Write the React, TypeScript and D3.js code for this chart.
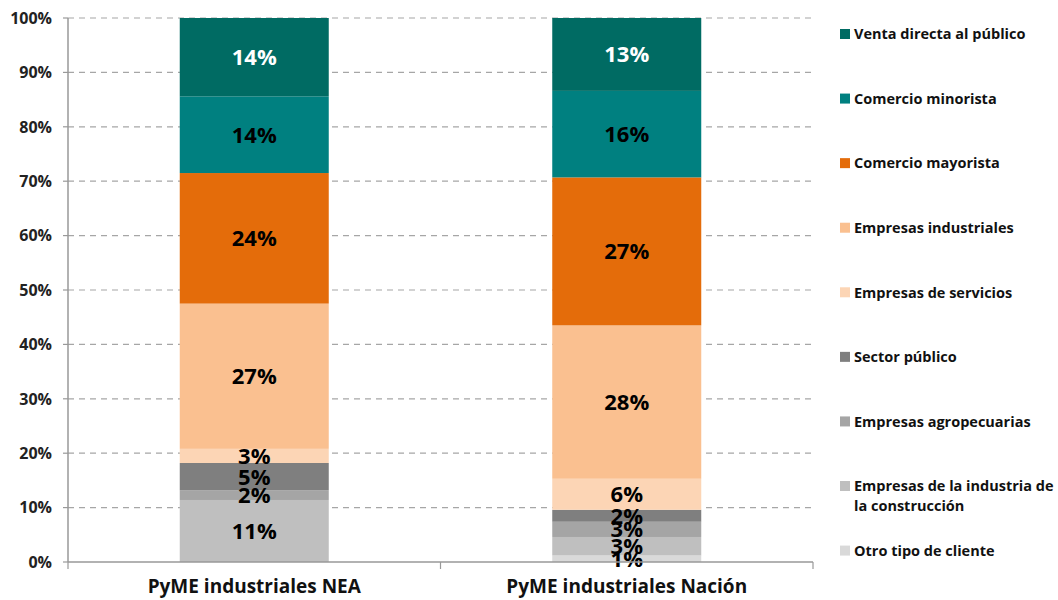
import { useMemo } from "react";
import * as d3 from "d3";

const WIDTH = 1058;
const HEIGHT = 600;
const MARGIN = { top: 18, right: 245, bottom: 38, left: 68 };

const categories = ["PyME industriales NEA", "PyME industriales Nación"];

// stack order, bottom to top
const seriesNames = [
    "Otro tipo de cliente",
    "Empresas de la industria de la construcción",
    "Empresas agropecuarias",
    "Sector público",
    "Empresas de servicios",
    "Empresas industriales",
    "Comercio mayorista",
    "Comercio minorista",
    "Venta directa al público",
];
const seriesColors = ["#d9d9d9", "#bfbfbf", "#a5a5a5", "#7f7f7f", "#fcd5b5", "#fac090", "#e46c0a", "#008080", "#006b63"];
const labelColors = ["#000", "#000", "#000", "#000", "#000", "#000", "#000", "#000", "#fff"];

const neaValues = [0, 11.4, 1.8, 5.0, 2.6, 26.7, 24.0, 14.1, 14.4];
const nacionValues = [1.2, 3.4, 2.8, 2.2, 5.7, 28.2, 27.2, 15.9, 13.4];

const yTicks = [0, 10, 20, 30, 40, 50, 60, 70, 80, 90, 100];

// legend rows, top to bottom (reverse of stack)
const legendLines: string[][] = [
    ["Venta directa al público"],
    ["Comercio minorista"],
    ["Comercio mayorista"],
    ["Empresas industriales"],
    ["Empresas de servicios"],
    ["Sector público"],
    ["Empresas agropecuarias"],
    ["Empresas de la industria de", "la construcción"],
    ["Otro tipo de cliente"],
];

const FONT = "'Open Sans', Lato, sans-serif";

const App = () => {
    const boundsWidth = WIDTH - MARGIN.left - MARGIN.right;
    const boundsHeight = HEIGHT - MARGIN.top - MARGIN.bottom;

    const xScale = useMemo(
        () => d3.scaleBand().domain(categories).range([0, boundsWidth]).paddingInner(0.6).paddingOuter(0.3),
        [boundsWidth]
    );
    const yScale = useMemo(() => d3.scaleLinear().domain([0, 100]).range([boundsHeight, 0]), [boundsHeight]);

    const table = categories.map((c, i) => {
        const vals = i === 0 ? neaValues : nacionValues;
        const row: Record<string, number | string> = { cat: c };
        seriesNames.forEach((s, j) => (row[s] = vals[j]));
        return row;
    });
    const stacked = d3.stack<Record<string, number | string>>().keys(seriesNames)(table as any);

    const gridStep = yScale(0) - yScale(10);

    return (
        <div style={{ position: "absolute", left: 0, top: 0 }}>
            <svg width={WIDTH} height={HEIGHT} style={{ display: "block", background: "white" }}>
                <g transform={`translate(${MARGIN.left},${MARGIN.top})`}>
                    {/* gridlines */}
                    {yTicks.filter((t) => t > 0).map((t) => (
                        <line
                            key={t}
                            x1={0}
                            x2={boundsWidth}
                            y1={yScale(t)}
                            y2={yScale(t)}
                            stroke="#a6a6a6"
                            strokeWidth={1.2}
                            strokeDasharray="6,5"
                        />
                    ))}
                    {/* bars */}
                    {stacked.map((layer, j) =>
                        layer.map((d, i) => {
                            const h = yScale(d[0]) - yScale(d[1]);
                            if (h <= 0) return null;
                            return (
                                <rect
                                    key={`${j}-${i}`}
                                    x={xScale(categories[i])}
                                    y={yScale(d[1])}
                                    width={xScale.bandwidth()}
                                    height={h}
                                    fill={seriesColors[j]}
                                />
                            );
                        })
                    )}
                    {/* data labels */}
                    {stacked.map((layer, j) =>
                        layer.map((d, i) => {
                            const v = d[1] - d[0];
                            if (v <= 0) return null;
                            return (
                                <text
                                    key={`l${j}-${i}`}
                                    x={(xScale(categories[i]) ?? 0) + xScale.bandwidth() / 2}
                                    y={yScale((d[0] + d[1]) / 2)}
                                    dy="0.36em"
                                    textAnchor="middle"
                                    fontFamily={FONT}
                                    fontWeight={700}
                                    fontSize={22}
                                    fill={labelColors[j]}
                                >
                                    {Math.round(v)}%
                                </text>
                            );
                        })
                    )}
                    {/* y axis */}
                    <line x1={0} x2={0} y1={0} y2={boundsHeight} stroke="#999" strokeWidth={1.5} />
                    {yTicks.map((t) => (
                        <g key={`t${t}`} transform={`translate(0,${yScale(t)})`}>
                            <line x1={-5} x2={0} stroke="#999" strokeWidth={1.2} />
                            <text
                                x={-16}
                                dy="0.36em"
                                textAnchor="end"
                                fontFamily={FONT}
                                fontWeight={700}
                                fontSize={16}
                                fill="#222"
                            >
                                {t}%
                            </text>
                        </g>
                    ))}
                    {/* x axis */}
                    <line x1={0} x2={boundsWidth} y1={boundsHeight} y2={boundsHeight} stroke="#999" strokeWidth={1.5} />
                    {[0, boundsWidth / 2, boundsWidth].map((x) => (
                        <line key={`xt${x}`} x1={x} x2={x} y1={boundsHeight} y2={boundsHeight + 7} stroke="#999" strokeWidth={1.2} />
                    ))}
                    {categories.map((c) => (
                        <text
                            key={c}
                            x={(xScale(c) ?? 0) + xScale.bandwidth() / 2}
                            y={boundsHeight + 31}
                            textAnchor="middle"
                            fontFamily={FONT}
                            fontWeight={700}
                            fontSize={19}
                            fill="#111"
                        >
                            {c}
                        </text>
                    ))}
                </g>
                {/* legend */}
                <g transform="translate(840,0)">
                    {legendLines.map((lines, k) => {
                        const cy = 34 + k * gridStep * 1.187;
                        const color = seriesColors[seriesNames.length - 1 - k];
                        return (
                            <g key={k} transform={`translate(0,${cy})`}>
                                <rect x={0} y={-5} width={10} height={10} fill={color} />
                                {lines.map((ln, m) => (
                                    <text
                                        key={m}
                                        x={14}
                                        y={m * 20}
                                        dy="0.36em"
                                        fontFamily={FONT}
                                        fontWeight={700}
                                        fontSize={14.5}
                                        fill="#111"
                                    >
                                        {ln}
                                    </text>
                                ))}
                            </g>
                        );
                    })}
                </g>
            </svg>
        </div>
    );
};

export default App;
